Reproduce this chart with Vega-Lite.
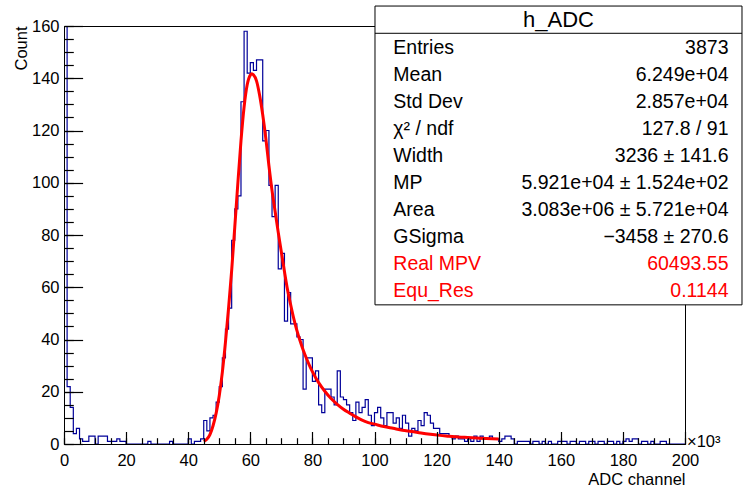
{
"$schema": "https://vega.github.io/schema/vega-lite/v6.json",
"width": 621, "height": 418,
"autosize": {"type": "none"},
"padding": {"left": 64, "top": 26, "right": 58, "bottom": 43},
"background": "white",
"config": {
  "font": "Liberation Sans",
  "view": {"stroke": "black", "strokeWidth": 1},
  "axis": {"grid": false, "domainColor": "black", "labelColor": "black", "titleColor": "black", "labelFont": "Liberation Sans", "titleFont": "Liberation Sans", "titleFontWeight": "normal"}
},
"datasets": {
  "hist": [
{"adc":0,"count":697},{"adc":1000,"count":22},{"adc":2000,"count":14},{"adc":3000,"count":4},{"adc":4000,"count":6},{"adc":5000,"count":2},{"adc":6000,"count":1},{"adc":7000,"count":1},{"adc":8000,"count":3},{"adc":9000,"count":3},
{"adc":10000,"count":0},{"adc":11000,"count":3},{"adc":12000,"count":3},{"adc":13000,"count":3},{"adc":14000,"count":1},{"adc":15000,"count":1},{"adc":16000,"count":1},{"adc":17000,"count":2},{"adc":18000,"count":1},{"adc":19000,"count":1},
{"adc":20000,"count":0},{"adc":21000,"count":0},{"adc":22000,"count":0},{"adc":23000,"count":0},{"adc":24000,"count":0},{"adc":25000,"count":0},{"adc":26000,"count":0},{"adc":27000,"count":1},{"adc":28000,"count":0},{"adc":29000,"count":0},
{"adc":30000,"count":0},{"adc":31000,"count":0},{"adc":32000,"count":0},{"adc":33000,"count":0},{"adc":34000,"count":1},{"adc":35000,"count":0},{"adc":36000,"count":0},{"adc":37000,"count":0},{"adc":38000,"count":0},{"adc":39000,"count":0},
{"adc":40000,"count":2},{"adc":41000,"count":0},{"adc":42000,"count":1},{"adc":43000,"count":1},{"adc":44000,"count":2},{"adc":45000,"count":9},{"adc":46000,"count":5},{"adc":47000,"count":10},{"adc":48000,"count":11},{"adc":49000,"count":16},
{"adc":50000,"count":22},{"adc":51000,"count":33},{"adc":52000,"count":44},{"adc":53000,"count":52},{"adc":54000,"count":78},{"adc":55000,"count":90},{"adc":56000,"count":95},{"adc":57000,"count":131},{"adc":58000,"count":158},{"adc":59000,"count":142},
{"adc":60000,"count":146},{"adc":61000,"count":143},{"adc":62000,"count":147},{"adc":63000,"count":147},{"adc":64000,"count":116},{"adc":65000,"count":120},{"adc":66000,"count":99},{"adc":67000,"count":87},{"adc":68000,"count":99},{"adc":69000,"count":67},
{"adc":70000,"count":73},{"adc":71000,"count":47},{"adc":72000,"count":58},{"adc":73000,"count":46},{"adc":74000,"count":46},{"adc":75000,"count":41},{"adc":76000,"count":40},{"adc":77000,"count":21},{"adc":78000,"count":33},{"adc":79000,"count":33},
{"adc":80000,"count":24},{"adc":81000,"count":28},{"adc":82000,"count":15},{"adc":83000,"count":12},{"adc":84000,"count":21},{"adc":85000,"count":21},{"adc":86000,"count":18},{"adc":87000,"count":15},{"adc":88000,"count":28},{"adc":89000,"count":18},
{"adc":90000,"count":17},{"adc":91000,"count":15},{"adc":92000,"count":12},{"adc":93000,"count":9},{"adc":94000,"count":16},{"adc":95000,"count":12},{"adc":96000,"count":14},{"adc":97000,"count":17},{"adc":98000,"count":11},{"adc":99000,"count":7},
{"adc":100000,"count":12},{"adc":101000,"count":14},{"adc":102000,"count":10},{"adc":103000,"count":7},{"adc":104000,"count":12},{"adc":105000,"count":12},{"adc":106000,"count":8},{"adc":107000,"count":10},{"adc":108000,"count":6},{"adc":109000,"count":11},
{"adc":110000,"count":8},{"adc":111000,"count":3},{"adc":112000,"count":6},{"adc":113000,"count":5},{"adc":114000,"count":9},{"adc":115000,"count":7},{"adc":116000,"count":12},{"adc":117000,"count":11},{"adc":118000,"count":8},{"adc":119000,"count":6},
{"adc":120000,"count":6},{"adc":121000,"count":4},{"adc":122000,"count":4},{"adc":123000,"count":4},{"adc":124000,"count":3},{"adc":125000,"count":2},{"adc":126000,"count":3},{"adc":127000,"count":2},{"adc":128000,"count":2},{"adc":129000,"count":1},
{"adc":130000,"count":2},{"adc":131000,"count":1},{"adc":132000,"count":3},{"adc":133000,"count":1},{"adc":134000,"count":3},{"adc":135000,"count":2},{"adc":136000,"count":2},{"adc":137000,"count":3},{"adc":138000,"count":2},{"adc":139000,"count":2},
{"adc":140000,"count":1},{"adc":141000,"count":2},{"adc":142000,"count":3},{"adc":143000,"count":3},{"adc":144000,"count":2},{"adc":145000,"count":0},{"adc":146000,"count":1},{"adc":147000,"count":1},{"adc":148000,"count":1},{"adc":149000,"count":1},
{"adc":150000,"count":0},{"adc":151000,"count":1},{"adc":152000,"count":1},{"adc":153000,"count":0},{"adc":154000,"count":1},{"adc":155000,"count":0},{"adc":156000,"count":1},{"adc":157000,"count":0},{"adc":158000,"count":0},{"adc":159000,"count":1},
{"adc":160000,"count":1},{"adc":161000,"count":1},{"adc":162000,"count":0},{"adc":163000,"count":1},{"adc":164000,"count":1},{"adc":165000,"count":0},{"adc":166000,"count":1},{"adc":167000,"count":1},{"adc":168000,"count":0},{"adc":169000,"count":1},
{"adc":170000,"count":1},{"adc":171000,"count":0},{"adc":172000,"count":1},{"adc":173000,"count":1},{"adc":174000,"count":0},{"adc":175000,"count":1},{"adc":176000,"count":1},{"adc":177000,"count":0},{"adc":178000,"count":1},{"adc":179000,"count":0},
{"adc":180000,"count":1},{"adc":181000,"count":2},{"adc":182000,"count":1},{"adc":183000,"count":2},{"adc":184000,"count":2},{"adc":185000,"count":0},{"adc":186000,"count":1},{"adc":187000,"count":1},{"adc":188000,"count":0},{"adc":189000,"count":1},
{"adc":190000,"count":0},{"adc":191000,"count":0},{"adc":192000,"count":1},{"adc":193000,"count":1},{"adc":194000,"count":0},{"adc":195000,"count":0},{"adc":196000,"count":0},{"adc":197000,"count":0},{"adc":198000,"count":0},{"adc":199000,"count":0},
{"adc":200000,"count":0}
  ],
  "fit": [
{"adc":45000,"f":1.0},{"adc":46000,"f":1.8},{"adc":47000,"f":3.6},{"adc":48000,"f":7.0},{"adc":49000,"f":11.8},{"adc":50000,"f":18.5},{"adc":51000,"f":27.5},{"adc":52000,"f":39},{"adc":53000,"f":52},{"adc":54000,"f":66.5},
{"adc":55000,"f":83},{"adc":56000,"f":100},{"adc":57000,"f":116},{"adc":58000,"f":129},{"adc":59000,"f":137.5},{"adc":60000,"f":141.2},{"adc":60500,"f":141.7},{"adc":61000,"f":141.3},{"adc":62000,"f":139},{"adc":63000,"f":133.5},
{"adc":64000,"f":126},{"adc":65000,"f":117},{"adc":66000,"f":106.5},{"adc":67000,"f":97},{"adc":68000,"f":89},{"adc":69000,"f":81},{"adc":70000,"f":73.5},{"adc":71000,"f":66},{"adc":72000,"f":59},{"adc":73000,"f":53.3},
{"adc":74000,"f":48},{"adc":75000,"f":43.5},{"adc":76000,"f":39.6},{"adc":77000,"f":36.1},{"adc":78000,"f":33},{"adc":79000,"f":30.2},{"adc":80000,"f":27.7},{"adc":82000,"f":23.5},{"adc":84000,"f":20.2},{"adc":86000,"f":17.4},
{"adc":88000,"f":15.2},{"adc":90000,"f":13.3},{"adc":92000,"f":11.8},{"adc":94000,"f":10.4},{"adc":96000,"f":9.1},{"adc":98000,"f":8.2},{"adc":100000,"f":7.6},{"adc":103000,"f":6.7},{"adc":106000,"f":6.0},{"adc":109000,"f":5.3},
{"adc":112000,"f":4.8},{"adc":115000,"f":4.2},{"adc":118000,"f":3.7},{"adc":121000,"f":3.3},{"adc":124000,"f":3.0},{"adc":127000,"f":2.7},{"adc":130000,"f":2.5},{"adc":133000,"f":2.3},{"adc":136000,"f":2.1},{"adc":140000,"f":1.9}
  ],
  "stats": [
{"row":1,"label":"Entries","value":"3873","kind":"hist"},
{"row":2,"label":"Mean","value":"6.249e+04","kind":"hist"},
{"row":3,"label":"Std Dev","value":"2.857e+04","kind":"hist"},
{"row":4,"label":"χ² / ndf","value":"127.8 / 91","kind":"fit"},
{"row":5,"label":"Width","value":"3236 ± 141.6","kind":"fit"},
{"row":6,"label":"MP","value":"5.921e+04 ± 1.524e+02","kind":"fit"},
{"row":7,"label":"Area","value":"3.083e+06 ± 5.721e+04","kind":"fit"},
{"row":8,"label":"GSigma","value":"−3458 ± 270.6","kind":"fit"},
{"row":9,"label":"Real MPV","value":"60493.55","kind":"derived"},
{"row":10,"label":"Equ_Res","value":"0.1144","kind":"derived"}
  ]
},
"layer": [
  {
    "layer": [
      {
        "data": {"name": "hist"},
        "mark": {"type": "line", "interpolate": "step-after", "color": "#000099", "strokeWidth": 1.2, "clip": true},
        "encoding": {
          "x": {"field": "adc", "type": "quantitative", "scale": {"domain": [0, 200000], "nice": false, "zero": false},
                "axis": {"orient": "bottom", "values": [0,20000,40000,60000,80000,100000,120000,140000,160000,180000,200000], "labelExpr": "datum.value / 1000", "ticks": false, "tickSize": 0, "labelPadding": 8, "labelFontSize": 16.5, "labelFlush": false, "labelOverlap": false, "title": "ADC channel", "titleFontSize": 16.5, "titleAnchor": "end", "titleAlign": "right", "titleX": 621, "titleY": 40, "titleBaseline": "alphabetic"}},
          "y": {"field": "count", "type": "quantitative", "scale": {"domain": [0, 160], "nice": false, "zero": true},
                "axis": {"orient": "left", "values": [0,20,40,60,80,100,120,140,160], "ticks": false, "tickSize": 0, "labelPadding": 5, "labelFontSize": 16.5, "labelFlush": false, "labelOverlap": false, "title": "Count", "titleFontSize": 16.5, "titleAngle": -90, "titleAlign": "right", "titleAnchor": "end", "titleX": -43, "titleY": 0, "titleBaseline": "middle"}}
        }
      },
      {
        "data": {"name": "fit"},
        "mark": {"type": "line", "interpolate": "monotone", "color": "#ff0000", "strokeWidth": 3},
        "encoding": {
          "x": {"field": "adc", "type": "quantitative", "scale": {"domain": [0, 200000], "nice": false, "zero": false},
                "axis": {"orient": "top", "offset": -418, "zindex": 1, "values": [0,20000,40000,60000,80000,100000,120000,140000,160000,180000,200000], "ticks": true, "tickSize": 12.5, "tickWidth": 1.2, "tickColor": "black", "labels": false, "domain": false, "title": null}},
          "y": {"field": "f", "type": "quantitative", "scale": {"domain": [0, 160], "nice": false, "zero": true},
                "axis": {"orient": "right", "offset": -621, "zindex": 1, "values": [0,20,40,60,80,100,120,140,160], "ticks": true, "tickSize": 18.6, "tickWidth": 1.2, "tickColor": "black", "labels": false, "domain": false, "title": null}}
        }
      },
      {
        "data": {"values": [{"mult": "×10³"}]},
        "mark": {"type": "text", "align": "left", "baseline": "alphabetic", "fontSize": 16.5, "dx": 2, "dy": 3, "color": "black"},
        "encoding": {
          "x": {"datum": 200000, "type": "quantitative", "scale": {"domain": [0, 200000], "nice": false, "zero": false},
                "axis": {"orient": "top", "offset": -418, "zindex": 1, "values": [0,5000,10000,15000,20000,25000,30000,35000,40000,45000,50000,55000,60000,65000,70000,75000,80000,85000,90000,95000,100000,105000,110000,115000,120000,125000,130000,135000,140000,145000,150000,155000,160000,165000,170000,175000,180000,185000,190000,195000,200000], "ticks": true, "tickSize": 6.3, "tickColor": "black", "tickWidth": 1.2, "labels": false, "domain": false, "title": null}},
          "y": {"datum": 0, "type": "quantitative", "scale": {"domain": [0, 160], "nice": false, "zero": true},
                "axis": {"orient": "right", "offset": -621, "zindex": 1, "values": [0,5,10,15,20,25,30,35,40,45,50,55,60,65,70,75,80,85,90,95,100,105,110,115,120,125,130,135,140,145,150,155,160], "ticks": true, "tickSize": 9.3, "tickColor": "black", "tickWidth": 1.2, "labels": false, "domain": false, "title": null}},
          "text": {"field": "mult"}
        }
      }
    ],
    "resolve": {"axis": {"x": "independent", "y": "independent"}}
  },
  {
    "layer": [
      {
        "data": {"values": [{"name": "h_ADC"}]},
        "mark": {"type": "rect", "fill": "white", "stroke": "black", "strokeWidth": 1},
        "encoding": {
          "x": {"datum": 100161, "type": "quantitative", "axis": null},
          "x2": {"datum": 218357},
          "y": {"datum": -0.78, "type": "quantitative", "axis": null, "scale": {"domain": [-0.04, 15.46], "reverse": true, "nice": false, "zero": false}},
          "y2": {"datum": 10.3}
        }
      },
      {
        "data": {"values": [{"name": "h_ADC"}]},
        "mark": {"type": "rule", "color": "black", "strokeWidth": 1},
        "encoding": {
          "x": {"datum": 100161, "type": "quantitative", "axis": null},
          "x2": {"datum": 218357},
          "y": {"datum": 0.23, "type": "quantitative", "axis": null}
        }
      },
      {
        "data": {"values": [{"name": "h_ADC"}]},
        "mark": {"type": "text", "align": "center", "baseline": "alphabetic", "fontSize": 22, "color": "black"},
        "encoding": {
          "x": {"datum": 159259, "type": "quantitative", "axis": null},
          "y": {"datum": 0, "type": "quantitative", "axis": null},
          "text": {"field": "name"}
        }
      },
      {
        "data": {"name": "stats"},
        "mark": {"type": "text", "align": "left", "baseline": "alphabetic", "fontSize": 19.5},
        "encoding": {
          "x": {"datum": 106055, "type": "quantitative", "axis": null},
          "y": {"field": "row", "type": "quantitative", "axis": null, "scale": {"domain": [-0.04, 15.46], "reverse": true, "nice": false, "zero": false}},
          "text": {"field": "label"},
          "color": {"field": "kind", "type": "nominal", "legend": null, "scale": {"domain": ["hist", "fit", "derived"], "range": ["black", "black", "#ff0000"]}}
        }
      },
      {
        "data": {"name": "stats"},
        "mark": {"type": "text", "align": "right", "baseline": "alphabetic", "fontSize": 19.5},
        "encoding": {
          "x": {"datum": 214010, "type": "quantitative", "axis": null},
          "y": {"field": "row", "type": "quantitative", "axis": null, "scale": {"domain": [-0.04, 15.46], "reverse": true, "nice": false, "zero": false}},
          "text": {"field": "value"},
          "color": {"field": "kind", "type": "nominal", "legend": null, "scale": {"domain": ["hist", "fit", "derived"], "range": ["black", "black", "#ff0000"]}}
        }
      }
    ]
  }
],
"resolve": {"scale": {"y": "independent"}, "axis": {"x": "independent", "y": "independent"}}
}
